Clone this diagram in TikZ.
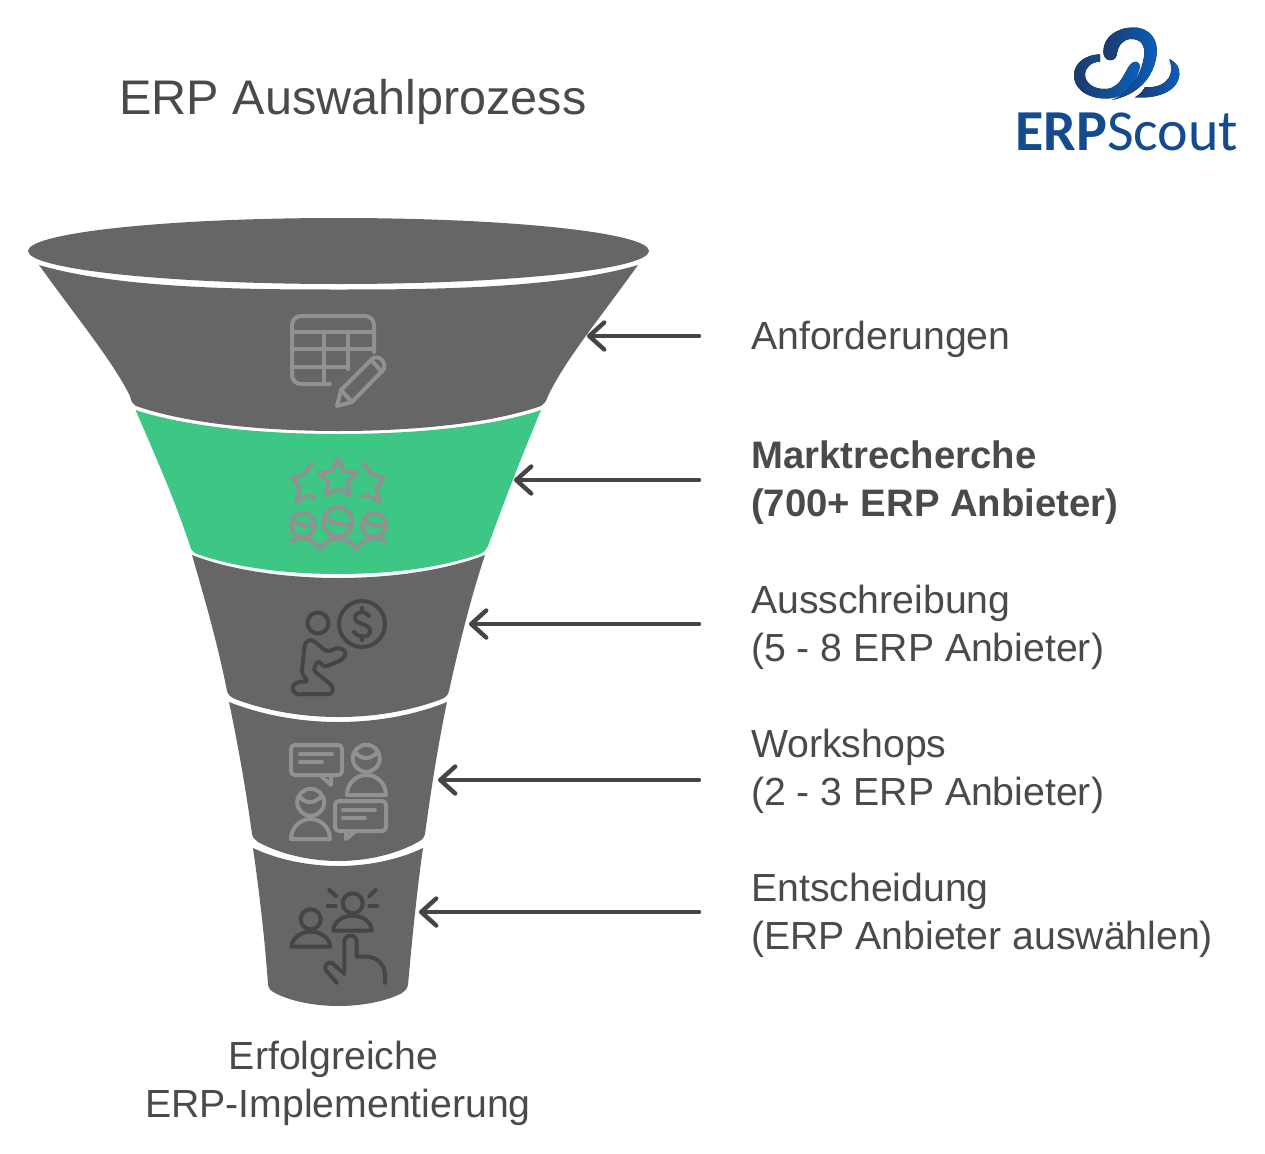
\documentclass[tikz,border=0pt]{standalone}
\usepackage{fontspec}
\setmainfont{Liberation Sans}
\newfontfamily\logofont{Carlito}
\usetikzlibrary{arrows.meta}
\definecolor{funnelgrey}{HTML}{666666}
\definecolor{funnelgreen}{HTML}{3EC685}
\definecolor{iconlight}{HTML}{919191}
\definecolor{icondark}{HTML}{454545}
\definecolor{labeltext}{HTML}{4A4A4A}
\definecolor{logodark}{HTML}{1B3A6B}
\definecolor{logoblue}{HTML}{0A5FBE}
\definecolor{logotext}{HTML}{144A8E}
\tikzset{ seg_grey/.style = {fill=funnelgrey, draw=none} }
\tikzset{ seg_green/.style = {fill=funnelgreen, draw=none} }
\tikzset{ label_txt/.style = {anchor=west, align=left, inner sep=0pt, text=labeltext, font=\fontsize{39.2}{48}\selectfont} }
\tikzset{ pointer/.style = {draw=icondark, line width=4.4pt, line cap=round, -{Straight Barb[length=15pt,width=27pt,line cap=round,line join=round]}} }
\tikzset{ icon_light/.style = {draw=iconlight, line width=4pt, line cap=round, line join=round} }
\tikzset{ icon_dark/.style = {draw=icondark, line width=4pt, line cap=round, line join=round} }
\tikzset{ cloud_part/.style = {left color=logodark, right color=logoblue, draw=none} }

\begin{document}
\begin{tikzpicture}[x=1pt, y=-1pt]
	\useasboundingbox (0,0) rectangle (1265,1153);

	\fill[seg_grey] (338.5,251) ellipse [x radius=310.5, y radius=33];
	\fill[seg_grey] (39,265) .. controls (120,289) and (250,289.5) .. (338.5,289.5) .. controls (427,289.5) and (557,289) .. (638,265)
		.. controls (600,318) and (565,360) .. (548,396) .. controls (546,402) and (544,404) .. (541,406)
		.. controls (490,424) and (410,431) .. (338.5,431) .. controls (267,431) and (187,424) .. (136,406)
		.. controls (133,404) and (131,402) .. (130,396) .. controls (112,360) and (77,318) .. cycle;
	\fill[seg_green] (135.5,410) .. controls (190,428) and (270,434) .. (338.5,434) .. controls (407,434) and (487,428) .. (541,410)
		.. controls (520,460) and (503,505) .. (488,546) .. controls (486,550) and (484,552) .. (480,554)
		.. controls (440,568) and (390,574) .. (338.5,574) .. controls (287,574) and (237,568) .. (197,554)
		.. controls (193,552) and (191,550) .. (190,546) .. controls (175,500) and (155,455) .. cycle;
	\fill[seg_grey] (192,555) .. controls (230,570) and (285,578) .. (338.5,578) .. controls (392,578) and (447,570) .. (485,555)
		.. controls (470,600) and (458,650) .. (449,691) .. controls (448,695) and (446,697) .. (442,699)
		.. controls (410,711) and (375,717) .. (338.5,717) .. controls (302,717) and (267,711) .. (235,699)
		.. controls (231,697) and (228,695) .. (227,691) .. controls (218,645) and (205,600) .. cycle;
	\fill[seg_grey] (229,702) .. controls (262,715) and (300,722) .. (338.5,722) .. controls (377,722) and (415,715) .. (447,702)
		.. controls (438,745) and (431,790) .. (425,834) .. controls (424,838) and (422,840) .. (418,842)
		.. controls (395,855) and (365,861) .. (338.5,861) .. controls (312,861) and (282,855) .. (258,842)
		.. controls (255,840) and (253,838) .. (252,834) .. controls (246,790) and (238,745) .. cycle;
	\fill[seg_grey] (253,848) .. controls (278,860) and (310,866) .. (338.5,866) .. controls (367,866) and (398,860) .. (423,848)
		.. controls (417,890) and (412,940) .. (408,985) .. controls (407,989) and (405,991) .. (402,993)
		.. controls (385,1002) and (360,1006) .. (338.5,1006) .. controls (317,1006) and (292,1002) .. (275,993)
		.. controls (271,991) and (269,989) .. (268,985) .. controls (265,940) and (259,890) .. cycle;

	\draw[icon_light] (374,352) -- (374,325) arc [start angle=0, end angle=-90, radius=9] -- (301,316) arc [start angle=-90, end angle=-180, radius=9] -- (292,375) arc [start angle=180, end angle=90, radius=9] -- (330,384);
	\draw[icon_light] (292,332) -- (374,332) (292,349) -- (374,349) (292,367) -- (348,367) (324,332) -- (324,384) (348,332) -- (348,369);
	\draw[icon_light] (337,406) -- (341,390) -- (372,359) .. controls (378,354) and (386,361) .. (384,369) -- (352,402) -- cycle (341,390) -- (352,402) (372,361) -- (382,372);

	\draw[icon_light] (338,459) -- (344,471) -- (357,473) -- (347.5,482) -- (350,495) -- (338,489) -- (326,495) -- (328.5,482) -- (319,473) -- (332,471) -- cycle;
	\draw[icon_light] (312,464) -- (303,475) -- (292,478) -- (300,488) -- (296,502) -- (308,495) -- (314,497);
	\draw[icon_light] (364,464) -- (373,475) -- (384,478) -- (376,488) -- (380,502) -- (368,495) -- (362,497);
	\draw[icon_light] (303,525) circle [radius=12] (338,522) circle [radius=14.5] (374,525) circle [radius=12];
	\draw[icon_light] (293,521) .. controls (300,525) and (306,526) .. (314,526) (325,516) .. controls (332,523) and (340,525) .. (352,525) (364,521) .. controls (370,525) and (376,526) .. (385,526);
	\draw[icon_light] (292,541) .. controls (298,536) and (312,537) .. (320,549) .. controls (328,535) and (348,535) .. (356,549) .. controls (364,537) and (378,536) .. (385,541);

	\draw[icon_dark] (362,624) circle [radius=23] (318,623) circle [radius=10.5];
	\draw[icon_dark] (369,616) .. controls (365,610) and (355,611) .. (355,618) .. controls (355,625) and (370,623) .. (370,631) .. controls (370,638) and (358,638) .. (354,632) (362,608) -- (362,612) (362,636) -- (362,640);
	\draw[icon_dark, rounded corners=3.5pt] (311.7,639.3) -- (326.7,651.7) -- (340,647.3) -- (347,653) -- (341.7,660) -- (324,667.3) -- (318.3,660) -- (313,670) -- (332.7,686) -- (332.7,694) -- (295,694.3) -- (291.7,686.7) -- (297.3,681.7) -- (308.3,681.7) -- (301.7,673.3) -- (305,642) -- cycle;

	\draw[icon_light, rounded corners=4pt] (291,745) rectangle (342,775);
	\draw[icon_light, line join=round] (320,775) -- (331,785) -- (331,775);
	\draw[icon_light] (300,754) -- (332,754) (300,762) -- (322,762);
	\draw[icon_light] (366.3,758.3) circle [radius=13.5] (356,753) .. controls (362,760) and (370,760) .. (378,752);
	\draw[icon_light] (347,795) arc [start angle=180, end angle=360, x radius=19.5, y radius=20] -- cycle;
	\draw[icon_light] (310.7,802.3) circle [radius=13.5] (300,797) .. controls (306,804) and (314,804) .. (322,796);
	\draw[icon_light] (291,839) arc [start angle=180, end angle=360, x radius=19.5, y radius=20] -- cycle;
	\draw[icon_light, rounded corners=4pt] (335,801) rectangle (386,831);
	\draw[icon_light] (346,831) -- (346,839) -- (356,831);
	\draw[icon_light] (343,810) -- (375,810) (343,818) -- (365,818);

	\draw[icon_dark] (352.7,903.3) circle [radius=10] (310.7,919.3) circle [radius=10];
	\draw[icon_dark] (333.3,930.7) arc [start angle=180, end angle=360, x radius=19.2, y radius=15] -- cycle;
	\draw[icon_dark] (291.7,946.7) arc [start angle=180, end angle=360, x radius=19.2, y radius=15] -- cycle;
	\draw[icon_dark] (329.3,890) -- (336,896) (375.7,890) -- (369.3,896) (327.7,906) -- (335.7,906) (369.3,906) -- (377.3,906);
	\draw[icon_dark] (336.7,982.7) -- (325.7,970) .. controls (324,965) and (328,961) .. (332,963) -- (344.3,974) -- (344.3,941.7) arc [start angle=180, end angle=360, radius=6.2] -- (356.7,956.7) -- (366.7,956.7) .. controls (378,957) and (385,966) .. (385,975) -- (385,982.7);

	\node [label_txt, font=\fontsize{48.6}{58}\selectfont] (title) at (119,101.5) {ERP Auswahlprozess};
	\node [label_txt] (anford) at (751,339) {Anforderungen};
	\node [label_txt, font=\fontsize{38.3}{48}\selectfont\bfseries] (markt) at (751,483) {Marktrecherche\\(700+ ERP Anbieter)};
	\node [label_txt] (aussch) at (751,627) {Ausschreibung\\(5 - 8 ERP Anbieter)};
	\node [label_txt] (works) at (751,771) {Workshops\\(2 - 3 ERP Anbieter)};
	\node [label_txt] (entsch) at (751,915) {Entscheidung\\(ERP Anbieter auswählen)};
	\node [label_txt, anchor=center, align=center] (erfolg) at (338,1083) {\hspace*{-9pt}Erfolgreiche\\ERP-Implementierung};

	\coordinate (start1) at (699,336);
	\coordinate (start2) at (699,480);
	\coordinate (start3) at (699,624);
	\coordinate (start4) at (699,780);
	\coordinate (start5) at (699,912);
	\coordinate (tip1) at (587,336);
	\coordinate (tip2) at (514,480);
	\coordinate (tip3) at (469,624);
	\coordinate (tip4) at (438,780);
	\coordinate (tip5) at (419,912);
	\draw[pointer] (start1) to (tip1);
	\draw[pointer] (start2) to (tip2);
	\draw[pointer] (start3) to (tip3);
	\draw[pointer] (start4) to (tip4);
	\draw[pointer] (start5) to (tip5);

	\fill[cloud_part] (1100,54.3) .. controls (1083,55) and (1074,65) .. (1074,75) .. controls (1074,92) and (1093,100) .. (1110,98.3)
		.. controls (1125,97) and (1135,85) .. (1140,67) .. controls (1140,62) and (1135,60) .. (1131.7,63.3)
		.. controls (1125,68) and (1123,87) .. (1106.7,89) .. controls (1093,90) and (1085,82) .. (1085,75) .. controls (1085,67) and (1092,61.7) .. (1100,61.7) -- cycle;
	\fill[cloud_part] (1103.3,51.7) .. controls (1103.3,37) and (1117,27.5) .. (1133.3,27.5) .. controls (1150,27.5) and (1158,40) .. (1156.7,53.3)
		.. controls (1155,70) and (1147,83) .. (1133.3,91.7) .. controls (1127,96) and (1117,99) .. (1111.7,100)
		.. controls (1127,95) and (1141,77) .. (1144,56.7) .. controls (1146,45) and (1140,39) .. (1131.7,39)
		.. controls (1123,39) and (1118,45) .. (1116.7,55) .. controls (1115,63) and (1103.3,62) .. cycle;
	\fill[cloud_part] (1169.3,59) .. controls (1177,63) and (1180,68) .. (1179.3,75) .. controls (1178,90) and (1160,99) .. (1135,97.3)
		.. controls (1142,93) and (1143,90) .. (1145,87) .. controls (1160,89) and (1177,80) .. cycle;
	\node [anchor=base west, inner sep=0pt, text=logotext, font=\logofont\fontsize{58}{60}\selectfont] (logo) at (1015,150) {\textbf{ERP}Scout};
\end{tikzpicture}
\end{document}
